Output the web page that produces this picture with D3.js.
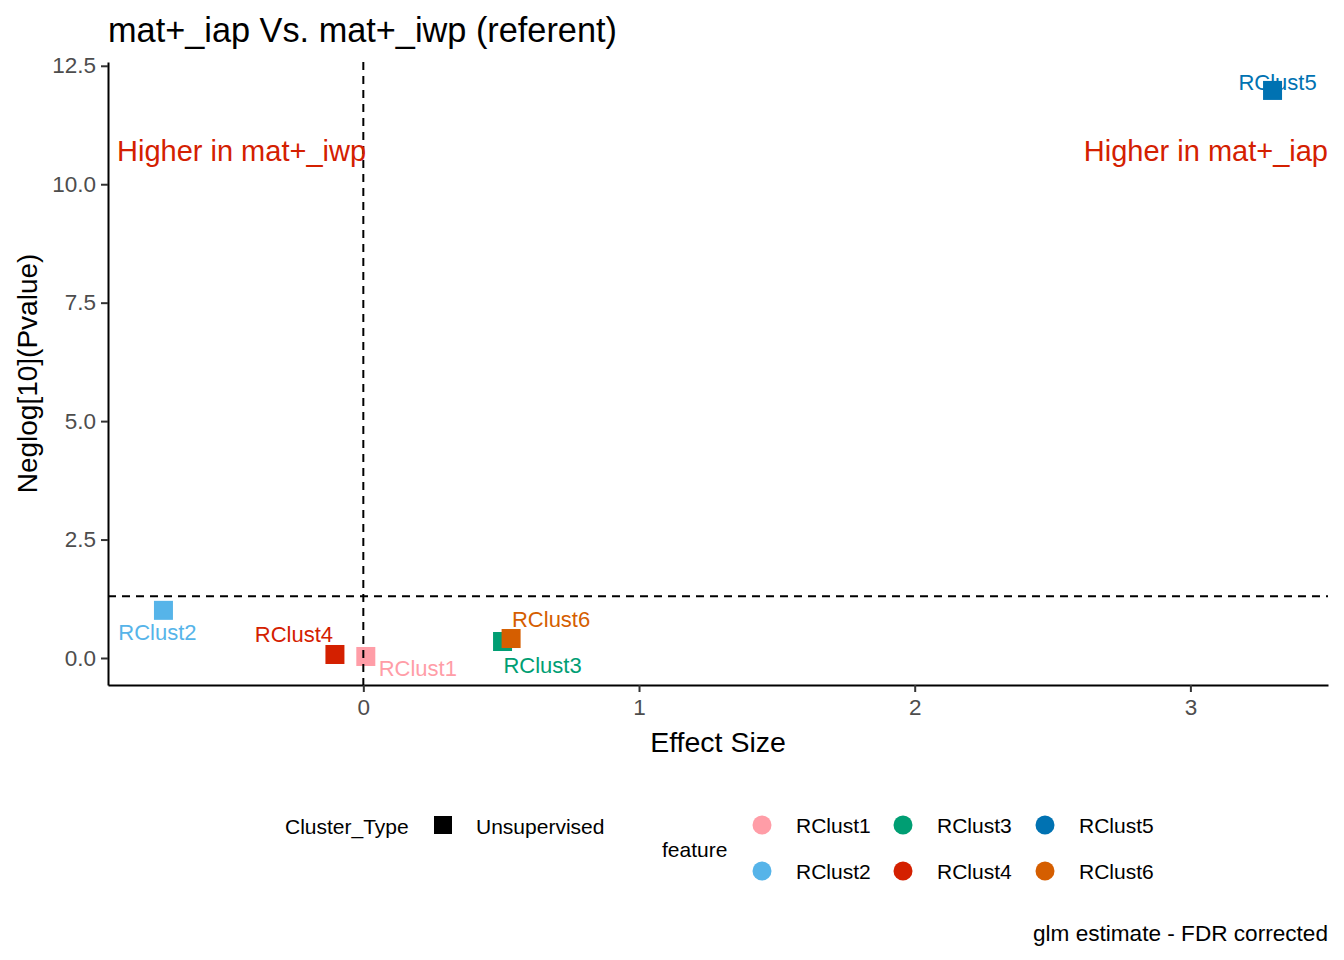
<!DOCTYPE html>
<html>
<head>
<meta charset="utf-8">
<script src="https://cdn.jsdelivr.net/npm/d3@7"></script>
<style>
  body { margin: 0; background: #fff; }
  text { font-family: "Liberation Sans", Arial, sans-serif; }
</style>
</head>
<body>
<svg id="chart" width="1344" height="960"></svg>
<script>
// data
const features = ["RClust1", "RClust2", "RClust3", "RClust4", "RClust5", "RClust6"];
const effectSize = [0.009, -0.725, 0.505, -0.103, 3.298, 0.536];
const negLogP = [0.032, 1.006, 0.348, 0.074, 11.98, 0.411];
const clusterType = ["Unsupervised", "Unsupervised", "Unsupervised", "Unsupervised", "Unsupervised", "Unsupervised"];
const featureColors = ["#FF9DA7", "#56B4E9", "#009E73", "#D42000", "#0072B2", "#D55E00"];
const xTicks = [0, 1, 2, 3];
const yTicks = [0, 2.5, 5, 7.5, 10, 12.5];
const pThreshold = -Math.log10(0.05);
const annoText = ["Higher in mat+_iwp", "Higher in mat+_iap"];
const annoY = 10.71;

// label nudges (px) as placed by the repel step
const labelShift = [[52, 12], [-6, 22], [40, 24], [-41, -20], [5, -8], [40, -19]];

const margin = { top: 62, right: 16, bottom: 275, left: 108 };
const width = 1344 - margin.left - margin.right;
const height = 960 - margin.top - margin.bottom;

const data = features.map((f, i) => ({
  feature: f, x: effectSize[i], y: negLogP[i], type: clusterType[i],
  color: featureColors[i], shift: labelShift[i]
}));

const svg = d3.select("#chart");
const g = svg.append("g").attr("transform", `translate(${margin.left},${margin.top})`);

// ggplot style 5% expansion
const xExt = d3.extent(effectSize);
const xPad = (xExt[1] - xExt[0]) * 0.05;
const x = d3.scaleLinear().domain([xExt[0] - xPad, xExt[1] + xPad]).range([0, width]);
const y = d3.scaleLinear().domain([-0.57, 12.58]).range([height, 0]);

// axes
const xAxis = g.append("g")
  .attr("transform", `translate(0,${height})`)
  .call(d3.axisBottom(x).tickValues(xTicks).tickFormat(d3.format("d")).tickSizeInner(7).tickSizeOuter(0).tickPadding(5));
const yAxis = g.append("g")
  .call(d3.axisLeft(y).tickValues(yTicks).tickFormat(d3.format(".1f")).tickSizeInner(7).tickSizeOuter(0).tickPadding(5));

[xAxis, yAxis].forEach(a => {
  a.attr("font-size", null).attr("font-family", null);
  a.select(".domain").attr("stroke", "#000").attr("stroke-width", 2);
  a.selectAll(".tick line").attr("stroke", "#333").attr("stroke-width", 2);
  a.selectAll(".tick text").attr("fill", "#4D4D4D").style("font-size", "22.5px");
});
xAxis.selectAll(".tick text").attr("dy", "0.8em");

// point labels
g.selectAll("text.lab")
  .data(data)
  .join("text")
  .attr("class", "lab")
  .attr("x", d => x(d.x) + d.shift[0])
  .attr("y", d => y(d.y) + d.shift[1])
  .attr("dy", "0.36em")
  .attr("text-anchor", "middle")
  .attr("fill", d => d.color)
  .style("font-size", "22px")
  .text(d => d.feature);

// points (squares)
const sq = 19;
g.selectAll("rect.pt")
  .data(data)
  .join("rect")
  .attr("class", "pt")
  .attr("x", d => x(d.x) - sq / 2)
  .attr("y", d => y(d.y) - sq / 2)
  .attr("width", sq)
  .attr("height", sq)
  .attr("fill", d => d.color);

// reference lines
g.append("line")
  .attr("x1", x(0)).attr("x2", x(0))
  .attr("y1", 0).attr("y2", height)
  .attr("stroke", "#000").attr("stroke-width", 2).attr("stroke-dasharray", "8,6");
g.append("line")
  .attr("x1", 0).attr("x2", width)
  .attr("y1", y(pThreshold)).attr("y2", y(pThreshold))
  .attr("stroke", "#000").attr("stroke-width", 2).attr("stroke-dasharray", "8,6");

// direction annotations
g.append("text")
  .attr("x", x(x.domain()[0]) + 9)
  .attr("y", y(annoY)).attr("dy", "0.36em")
  .attr("fill", "#D42000").style("font-size", "29px")
  .text(annoText[0]);
g.append("text")
  .attr("x", width)
  .attr("y", y(annoY)).attr("dy", "0.36em")
  .attr("text-anchor", "end")
  .attr("fill", "#D42000").style("font-size", "29px")
  .text(annoText[1]);

// titles
svg.append("text")
  .attr("x", margin.left).attr("y", 42)
  .style("font-size", "34.3px")
  .text("mat+_iap Vs. mat+_iwp (referent)");
svg.append("text")
  .attr("x", margin.left + width / 2).attr("y", 752)
  .attr("text-anchor", "middle")
  .style("font-size", "28.5px")
  .text("Effect Size");
svg.append("text")
  .attr("transform", `translate(37,${margin.top + height / 2}) rotate(-90)`)
  .attr("text-anchor", "middle")
  .style("font-size", "28px")
  .text("Neglog[10](Pvalue)");

// legend: Cluster_Type
const leg = svg.append("g").style("font-size", "21px");
leg.append("text").attr("x", 285).attr("y", 826).attr("dy", "0.36em").text("Cluster_Type");
leg.append("rect").attr("x", 434).attr("y", 816).attr("width", 18).attr("height", 18).attr("fill", "#000");
leg.append("text").attr("x", 476).attr("y", 826).attr("dy", "0.36em").text("Unsupervised");

// legend: feature
leg.append("text").attr("x", 662).attr("y", 849).attr("dy", "0.36em").text("feature");
const colX = [762, 903, 1045];
const rowY = [825, 871];
const items = leg.selectAll("g.item")
  .data(data)
  .join("g")
  .attr("class", "item")
  .attr("transform", (d, i) => `translate(${colX[Math.floor(i / 2)]},${rowY[i % 2]})`);
items.append("circle").attr("r", 9.5).attr("fill", d => d.color);
items.append("text").attr("x", 34).attr("dy", "0.36em").text(d => d.feature);

// caption
svg.append("text")
  .attr("x", 1328).attr("y", 933).attr("dy", "0.36em")
  .attr("text-anchor", "end")
  .style("font-size", "22.6px")
  .text("glm estimate - FDR corrected");
</script>
</body>
</html>
